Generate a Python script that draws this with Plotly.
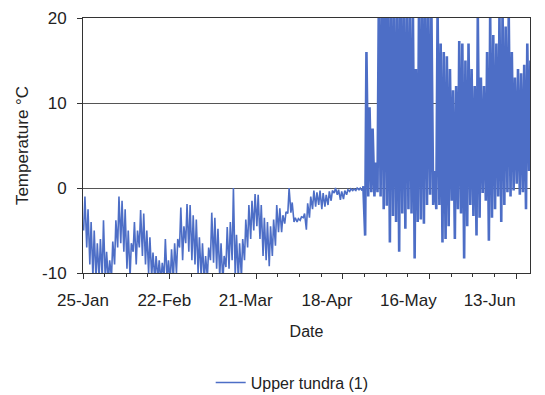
import pandas as pd
import plotly.graph_objects as go

# ---------------- data (daily max / min) ----------------
jan_max = [-1.0, -2.5, -4.0, -5.0, -6.5, -6.0, -3.8]
jan_min = [-5.0, -7.0, -9.0, -10.5, -10.8, -10.5, -10.6]

feb_max = [-7.5, -8.5, -6.3, -3.8, -1.0, -1.5, -2.5, -5.0, -6.5, -4.0,
           -5.0, -2.6, -3.0, -5.0, -5.8, -7.6, -8.0, -8.5, -8.8, -6.0,
           -8.5, -7.2, -6.5, -6.0, -2.3, -4.5, -1.9, -2.0, -3.2]
feb_min = [-11.0, -11.0, -10.5, -9.0, -7.0, -6.5, -7.5, -9.5, -10.5, -7.5,
           -9.0, -7.0, -8.0, -9.0, -10.0, -10.5, -10.8, -10.8, -11.0, -10.5,
           -11.0, -11.0, -10.8, -10.0, -7.0, -8.5, -6.5, -7.5, -8.5]

mar_max = [-3.7, -5.8, -6.5, -8.0, -7.0, -2.9, -3.5, -4.8, -6.5, -8.0,
           -4.6, -4.0, 0.0, -5.5, -6.5, -6.0, -3.7, -2.0, -1.5, -0.7,
           -0.8, -2.0, -3.5, -4.0, -4.5, -3.7, -2.0, -2.4, -3.2, -2.8, 0.0]
mar_min = [-9.0, -10.0, -10.5, -11.0, -10.5, -8.5, -8.8, -9.5, -10.5, -11.0,
           -9.3, -9.5, -8.5, -10.5, -10.8, -10.5, -8.5, -7.0, -6.0, -5.0,
           -4.5, -6.0, -8.0, -8.5, -9.2, -8.0, -6.8, -5.2, -5.2, -4.2, -3.0]

apr_max = [-1.7, -3.5, -3.6, -3.4, -3.0, -1.8, -1.0, -0.3, -0.5, -0.3,
           -0.6, -0.8, -0.4, -0.3, 0.0, -0.2, -0.4, -0.3, -0.2, -0.1,
           -0.1, 0.0, 0.0, 0.2, 16.0, 9.5, 7.0, 3.0, 22.0, 24.0]
apr_min = [-2.9, -4.0, -4.0, -3.8, -3.5, -4.9, -3.5, -2.5, -2.2, -2.0,
           -2.5, -2.2, -2.0, -1.5, -0.6, -0.8, -1.4, -1.3, -0.8, -0.4,
           -0.3, -0.3, -0.2, -0.3, -5.6, -1.0, -0.5, -1.0, -0.5, -1.0]

may_max = [25.0, 23.0, 24.0, 22.0, 23.0, 24.0, 22.0, 23.0, 21.0, 22.0,
           14.0, 22.0, 24.0, 23.0, 22.0, 21.0, 2.0, 21.0, 17.0, 16.0,
           15.5, 14.0, 11.5, 12.0, 17.3, 17.0, 15.0, 17.0, 14.0, 12.0, 20.5]
may_min = [-2.5, -2.1, -6.4, -3.3, -4.0, -7.5, -3.0, -4.8, -2.5, -3.0,
           -8.3, -4.0, -3.7, -4.2, -2.0, -0.8, -2.0, -2.5, -2.0, -6.4,
           -6.0, -4.5, -1.5, -6.0, -2.5, -3.0, -8.3, -4.5, -2.0, -3.3, -5.6]

jun_max = [13.0, 12.0, 16.0, 20.5, 18.0, 17.0, 20.5, 21.0, 19.0, 20.5,
           16.0, 13.0, 14.0, 13.5, 14.5, 17.0, 15.0]
jun_min = [-3.5, -0.6, -1.5, -6.2, -3.5, -2.5, -1.0, -4.0, -2.0, -0.5,
           -1.0, -0.3, 0.5, -0.8, -0.5, -2.5, 2.0]

first_day = "1996-01-25"
thaw_day = "1996-04-24"   # after this the daily cycle is large
tick_dates = ["1996-01-25", "1996-02-22", "1996-03-21",
              "1996-04-18", "1996-05-16", "1996-06-13"]
tick_labels = ["25-Jan", "22-Feb", "21-Mar", "18-Apr", "16-May", "13-Jun"]
series_name = "Upper tundra (1)"

# ---------------- build series ----------------
daily_max = jan_max + feb_max + mar_max + apr_max + may_max + jun_max
daily_min = jan_min + feb_min + mar_min + apr_min + may_min + jun_min
days = pd.date_range(first_day, periods=len(daily_max), freq="D")
times, temps = [], []
for d, lo, hi in zip(days, daily_min, daily_max):
    times += [d + pd.Timedelta(hours=5), d + pd.Timedelta(hours=15)]
    temps += [lo, hi]
s = pd.Series(temps, index=pd.DatetimeIndex(times))
cut = pd.Timestamp(thaw_day) + pd.Timedelta(hours=15)
winter = s[s.index <= cut]
summer = s[s.index >= cut]

t0 = pd.Timestamp(first_day)
x_range = [t0, t0 + pd.Timedelta(days=144.5)]
lab_range = [t0, t0 + pd.Timedelta(days=153.9)]

FONT = "Liberation Sans, Arial, sans-serif"
AX = "#333333"
LINE = "#4d6ec6"
TXT = "#222222"

fig = go.Figure()
fig.add_trace(go.Scatter(x=winter.index, y=winter.values, mode="lines",
                         name=series_name, legendgroup="s",
                         line=dict(color=LINE, width=1.6)))
fig.add_trace(go.Scatter(x=summer.index, y=summer.values, mode="lines",
                         name=series_name, legendgroup="s", showlegend=False,
                         line=dict(color=LINE, width=2.6)))
# carrier for the label axis (no visible marks)
fig.add_trace(go.Scatter(x=tick_dates, y=[None] * len(tick_dates),
                         xaxis="x2", yaxis="y", mode="lines",
                         showlegend=False, hoverinfo="skip"))

fig.update_layout(
    width=537, height=387,
    margin=dict(l=75, r=15, t=10, b=122, autoexpand=False),
    paper_bgcolor="white", plot_bgcolor="white",
    font=dict(family=FONT, size=15, color=TXT),
    showlegend=True,
    legend=dict(orientation="h", x=0.468, xanchor="center", y=-0.43,
                yanchor="middle", font=dict(size=16), bgcolor="rgba(0,0,0,0)"),
    xaxis=dict(type="date", range=x_range, tickvals=tick_dates,
               showticklabels=False, ticks="outside", ticklen=5, tickcolor=AX,
               showline=True, linecolor=AX, linewidth=1, mirror=True,
               showgrid=False, zeroline=False, automargin=False,
               minor=dict(ticks="outside", ticklen=3, tickcolor=AX,
                          dtick=7 * 86400000, tick0=first_day, showgrid=False)),
    xaxis2=dict(type="date", overlaying="x", anchor="y", side="bottom",
                range=lab_range, tickvals=tick_dates, ticktext=tick_labels,
                showline=False, ticks="", showgrid=False, zeroline=False,
                automargin=False,
                tickfont=dict(size=17, color=TXT), ticklabelstandoff=15,
                title=dict(text="Date", font=dict(size=16), standoff=16)),
    yaxis=dict(range=[-10, 20], tickvals=[-10, 0, 10, 20],
               ticktext=["-10", "0", "10", "20"],
               showgrid=True, gridcolor="#555555", gridwidth=1,
               showline=True, linecolor=AX, linewidth=1, mirror=True,
               ticks="outside", ticklen=5, tickcolor=AX, zeroline=False,
               automargin=False, ticklabelstandoff=7,
               tickfont=dict(size=17, color=TXT),
               title=dict(text="Temperature °C", font=dict(size=17), standoff=9)),
)

fig.write_html("out.html")
